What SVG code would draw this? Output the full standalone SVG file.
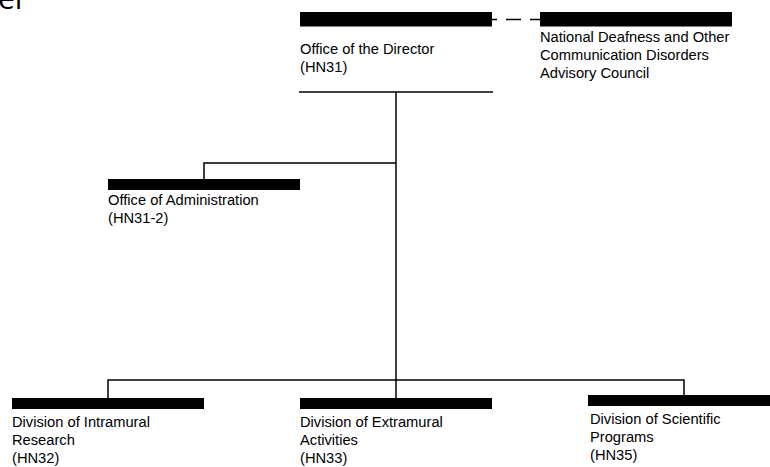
<svg xmlns="http://www.w3.org/2000/svg" width="770" height="467" viewBox="0 0 770 467">
<style>
.bar{fill:#000}
.lbl{font-family:"Liberation Sans",Arial,sans-serif;font-size:14.7px;fill:#000}
.ln{stroke:#000;stroke-width:1.5;fill:none}
</style>
<rect width="770" height="467" fill="#fff"/>
<text x="-2" y="9" font-family="'Open Sans','Liberation Sans',sans-serif" font-size="30" fill="#000">er</text>
<g id="connectors">
<line class="ln" x1="492" y1="19.5" x2="540" y2="19.5" stroke-dasharray="15 9" stroke-dashoffset="10"/>
<line class="ln" x1="299" y1="92" x2="493" y2="92"/>
<polyline class="ln" points="396,92 396,398"/>
<polyline class="ln" points="396,163 204,163 204,179"/>
<polyline class="ln" points="108,398 108,380 684,380 684,395"/>
</g>
<g id="director">
<rect class="bar" x="300" y="12" width="192" height="14.5"/>
<text class="lbl" x="300" y="54">Office of the Director</text>
<text class="lbl" x="300" y="72">(HN31)</text>
</g>
<g id="council">
<rect class="bar" x="540" y="12" width="192" height="14.5"/>
<text class="lbl" x="540" y="42">National Deafness and Other</text>
<text class="lbl" x="540" y="60">Communication Disorders</text>
<text class="lbl" x="540" y="78">Advisory Council</text>
</g>
<g id="administration">
<rect class="bar" x="108" y="179" width="192" height="11"/>
<text class="lbl" x="108" y="205">Office of Administration</text>
<text class="lbl" x="108" y="223">(HN31-2)</text>
</g>
<g id="intramural">
<rect class="bar" x="12" y="398" width="192" height="11"/>
<text class="lbl" x="12" y="427">Division of Intramural</text>
<text class="lbl" x="12" y="445">Research</text>
<text class="lbl" x="12" y="463">(HN32)</text>
</g>
<g id="extramural">
<rect class="bar" x="300" y="398" width="192" height="11"/>
<text class="lbl" x="300" y="427">Division of Extramural</text>
<text class="lbl" x="300" y="445">Activities</text>
<text class="lbl" x="300" y="463">(HN33)</text>
</g>
<g id="scientific">
<rect class="bar" x="588" y="395" width="182" height="11"/>
<text class="lbl" x="590" y="424">Division of Scientific</text>
<text class="lbl" x="590" y="442">Programs</text>
<text class="lbl" x="590" y="460">(HN35)</text>
</g>
</svg>
